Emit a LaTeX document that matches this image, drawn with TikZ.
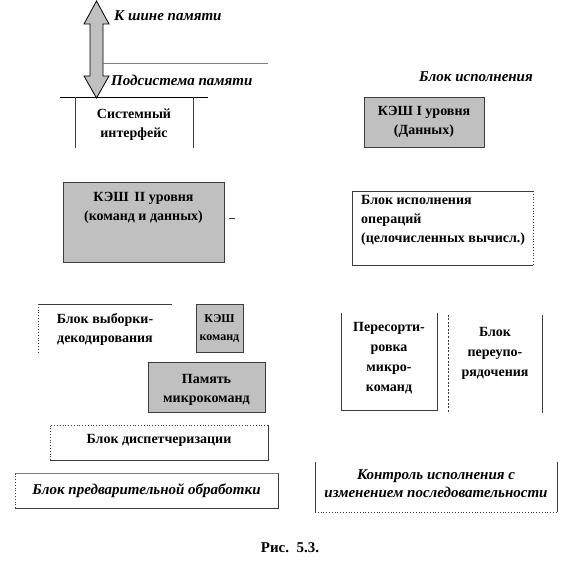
\documentclass[tikz,border=0pt]{standalone}
\usepackage{fontspec}
\setmainfont{Liberation Serif}
\definecolor{silverfill}{RGB}{192,192,192}
\definecolor{edgegray}{RGB}{60,60,60}
\begin{document}
\begin{tikzpicture}[x=1pt,y=-1pt,
  lbl/.style={font=\fontsize{14}{19}\selectfont\bfseries, align=center, inner sep=0pt},
  ilbl/.style={font=\fontsize{15}{18}\selectfont\bfseries\itshape, align=center, inner sep=0pt},
  frame/.style={rectangle, inner sep=0pt, outer sep=0pt},
  graybox/.style={frame, fill=silverfill, draw=edgegray, line width=0.8pt},
  edge/.style={draw=edgegray, line width=0.8pt},
  dotedge/.style={draw=edgegray, line width=0.8pt, dotted},
  dashedge/.style={draw=edgegray, line width=0.8pt, dash pattern=on 2pt off 1.5pt},
  thinedge/.style={draw=gray, line width=0.6pt}
]
\useasboundingbox (0,0) rectangle (581,569);

% double block arrow to the memory bus
\filldraw[fill=silverfill, draw=black, line width=0.8pt]
  (96.5,1) -- (109,24) -- (103,24) -- (103,76) -- (109,76) -- (96.5,98)
  -- (84,76) -- (90,76) -- (90,24) -- (84,24) -- cycle;

% header lines
\coordinate (busL) at (103,63);
\coordinate (busR) at (268,63);
\coordinate (memL) at (60,97);
\coordinate (memR) at (208,97);
\draw[thinedge] (busL) -- (busR);
\draw[draw=black, line width=0.9pt] (memL) -- (memR);

\node[ilbl, anchor=west] (bus) at (114,16) {К шине памяти};
\node[ilbl, anchor=west] (memsub) at (111,80) {Подсистема памяти};
\node[ilbl, anchor=east] (execunit) at (533,77) {Блок исполнения};

% boxes
\node[frame, minimum width=118, minimum height=51] (sys) at (134,122.5) {};
\draw[edge] (sys.north west) -- (sys.south west);
\draw[edge] (sys.north east) -- (sys.south east);
\node[lbl] (systxt) at (134,125) {Системный\\интерфейс};

\node[graybox, minimum width=120, minimum height=50] (l1) at (424,122) {};
\node[lbl] (l1txt) at (424,122) {КЭШ I уровня\\(Данных)};

\node[graybox, minimum width=161, minimum height=80] (l2) at (143.5,222) {};
\node[lbl] (l2txt) at (143.5,208) {КЭШ\, II уровня\\(команд и данных)};
\coordinate (markA) at (229,218);
\coordinate (markB) at (235,218);
\draw[edge] (markA) -- (markB);

\node[frame, minimum width=181, minimum height=74] (exec) at (442.5,228) {};
\draw[edge] (exec.north east) -- (exec.north west) -- (exec.south west) -- (exec.south east);
\draw[dotedge] (exec.north east) -- (exec.south east);
\node[lbl, align=left, anchor=west] (exectxt) at (361,220) {Блок исполнения\\операций\\(целочисленных вычисл.)};

\node[frame, minimum width=134, minimum height=49] (fetch) at (105,328.5) {};
\draw[edge] (fetch.north west) -- (fetch.north east);
\draw[dotedge] (fetch.north west) -- (fetch.south west);
\node[lbl] (fetchtxt) at (105,329) {Блок выборки-\\декодирования};

\node[graybox, minimum width=47, minimum height=48] (icache) at (219.5,328) {};
\node[lbl, font=\fontsize{12}{18}\selectfont\bfseries] (icachetxt) at (219.5,329) {КЭШ\\команд};

\node[graybox, minimum width=117, minimum height=50] (ucode) at (206.5,387) {};
\node[lbl] (ucodetxt) at (206.5,390) {Память\\микрокоманд};

\node[frame, minimum width=218, minimum height=35] (disp) at (159,442.5) {};
\draw[dotedge] (disp.south west) -- (disp.north west) -- (disp.north east);
\draw[edge] (disp.north east) -- (disp.south east) -- (disp.south west);
\node[lbl] (disptxt) at (159,440) {Блок диспетчеризации};

\node[frame, minimum width=263, minimum height=35] (pre) at (146.5,490.5) {};
\draw[dotedge] (pre.south west) -- (pre.north west);
\draw[thinedge] (pre.north west) -- (pre.north east);
\draw[edge] (pre.north east) -- (pre.south east) -- (pre.south west);
\node[ilbl] (pretxt) at (146.5,491) {Блок предварительной обработки};

\node[frame, minimum width=96, minimum height=97] (sched) at (389,361.5) {};
\draw[edge] (sched.north west) -- (sched.south west) -- (sched.south east) -- (sched.north east);
\node[lbl, font=\fontsize{14}{20}\selectfont\bfseries] (schedtxt) at (389,358) {Пересорти-\\ровка\\микро-\\команд};

\node[frame, minimum width=94, minimum height=98] (rob) at (495,364) {};
\draw[dashedge] (rob.north west) -- (rob.south west);
\draw[edge] (rob.north east) -- (rob.south east);
\node[lbl, font=\fontsize{14}{20}\selectfont\bfseries] (robtxt) at (495,353) {Блок\\переупо-\\рядочения};

\node[frame, minimum width=242, minimum height=50] (ctrl) at (436,487) {};
\draw[edge] (ctrl.north west) -- (ctrl.south west);
\draw[edge] (ctrl.north east) -- (ctrl.south east);
\draw[dotedge] (ctrl.south west) -- (ctrl.south east);
\node[ilbl] (ctrltxt) at (436,484) {Контроль исполнения с\\изменением последовательности};

\node[lbl, font=\fontsize{15}{18}\selectfont\bfseries] (caption) at (290,548) {Рис.~~5.3.};
\end{tikzpicture}
\end{document}
